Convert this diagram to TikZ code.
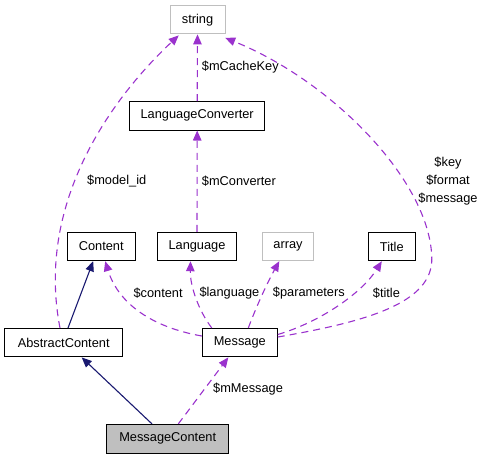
\documentclass[tikz,border=0pt]{standalone}
\usepackage{fontspec}
\setmainfont{Liberation Sans}
\usetikzlibrary{arrows.meta,calc}
\definecolor{edgepurple}{HTML}{9A32CD}
\definecolor{edgenavy}{HTML}{191970}
\definecolor{boxgray}{HTML}{BFBFBF}
\begin{document}
\begin{tikzpicture}[x=1pt,y=-1pt,
  font=\fontsize{12.8}{18}\selectfont,
  cls/.style={draw=black,line width=1pt,inner sep=0pt,minimum height=28.4pt,fill=white},
  ext/.style={draw=boxgray,line width=1pt,inner sep=0pt,minimum height=28.4pt,fill=white},
  cur/.style={draw=black,line width=1pt,inner sep=0pt,minimum height=28.6pt,fill=boxgray},
  usage/.style={color=edgepurple,line width=1.1pt,dash pattern=on 7pt off 5pt,-{Triangle[length=10pt,width=8.5pt]}},
  inherit/.style={color=edgenavy,line width=1.1pt,-{Triangle[length=10pt,width=8.5pt]}},
  lbl/.style={inner sep=0pt,anchor=west,text=black}]
\useasboundingbox (0,0) rectangle (484,459);
% nodes
\node[ext,minimum width=55pt] (str) at (197.5,19.7) {string};
\node[cls,minimum width=135pt] (lc) at (197.2,115.8) {LanguageConverter};
\node[cls,minimum width=68.3pt] (cont) at (101.2,246.5) {Content};
\node[cls,minimum width=79.4pt] (lang) at (197,246.5) {Language};
\node[ext,minimum width=50.6pt] (arr) at (288,246.5) {array};
\node[cls,minimum width=47pt] (title) at (391.8,246.5) {Title};
\node[cls,minimum width=118pt] (abs) at (63.7,342.7) {AbstractContent};
\node[cls,minimum width=75pt] (msg) at (239.8,342.7) {Message};
\node[cur,minimum width=122pt] (mc) at (167.7,438.7) {MessageContent};
% inheritance
\draw[inherit] ([xshift=4.3pt]abs.north) -- ([xshift=-8pt]cont.south);
\draw[inherit] ([xshift=-15.7pt]mc.north) -- ([xshift=18pt]abs.south);
% usage
\draw[usage] ([xshift=10.6pt]mc.north) -- ([xshift=-11.5pt]msg.south);
\draw[usage] (lc.north) -- (str.south);
\draw[usage] (lang.north) -- (lc.south);
\draw[usage] ([xshift=-3.7pt]abs.north) .. controls (35,200) and (115,95) .. ([xshift=-18.8pt,yshift=-1pt]str.south);
\draw[usage] ([yshift=6.7pt]msg.west) .. controls (140,325) and (115.4,294.5) .. ([xshift=4pt]cont.south);
\draw[usage] ([xshift=-28pt]msg.north) .. controls (198,310) and (190,285) .. ([xshift=-6.5pt]lang.south);
\draw[usage] ([xshift=8.5pt]msg.north) .. controls (255,310) and (266,285) .. ([xshift=-8.7pt]arr.south);
\draw[usage] ([yshift=8.2pt]msg.east) .. controls (320,322) and (361.5,293.5) .. ([xshift=-10pt]title.south);
\draw[usage] ([yshift=5.7pt]msg.east) .. controls (367,321.6) and (432.8,303) .. (431.8,258)
  .. controls (430.1,180) and (330,80) .. ([xshift=-0.3pt,yshift=-3.5pt]str.south east);
% labels
\node[lbl] (lmm) at (213,389.3) {\$mMessage};
\node[lbl] (lmid) at (87,181) {\$model\_id};
\node[lbl] (lck) at (201.7,66.7) {\$mCacheKey};
\node[lbl] (lcv) at (201.7,180.7) {\$mConverter};
\node[lbl] (lct) at (133.3,293.3) {\$content};
\node[lbl] (llg) at (199.3,293.3) {\$language};
\node[lbl] (lpr) at (272.7,293.3) {\$parameters};
\node[lbl] (ltt) at (372.7,293.3) {\$title};
\node[inner sep=0pt,align=center] (lkey) at (448,180.7) {\$key\\\$format\\\$message};
\end{tikzpicture}
\end{document}
